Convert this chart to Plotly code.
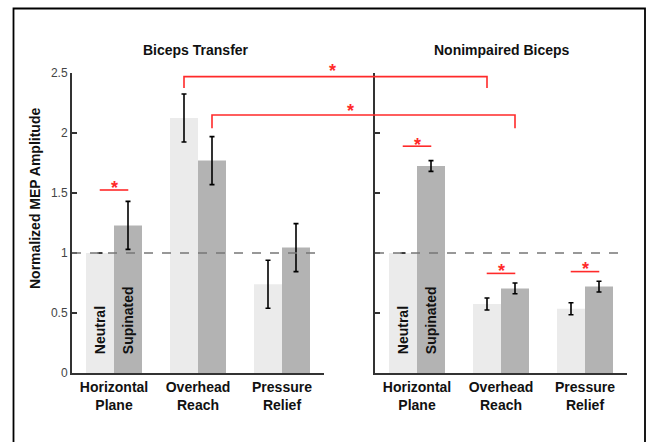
import plotly.graph_objects as go

# ---- data ----
postures = ["Horizontal<br>Plane", "Overhead<br>Reach", "Pressure<br>Relief"]

transfer_neutral = [1.00, 2.125, 0.74]
transfer_neutral_err = [0.0, 0.20, 0.20]
transfer_supinated = [1.23, 1.77, 1.045]
transfer_supinated_err = [0.20, 0.20, 0.20]

nonimp_neutral = [1.00, 0.575, 0.535]
nonimp_neutral_err = [0.0, 0.05, 0.05]
nonimp_supinated = [1.725, 0.705, 0.72]
nonimp_supinated_err = [0.045, 0.045, 0.045]

y_ticks = [0, 0.5, 1, 1.5, 2, 2.5]
y_tick_text = ["0", "0.5", "1", "1.5", "2", "2.5"]

# ---- style ----
W, H = 646, 442
NEUTRAL_C = "#ebebeb"
SUPIN_C = "#b3b3b3"
AXIS_C = "#333333"
RED = "#ff2a2a"
FONT = "Liberation Sans, Arial, sans-serif"
STAR_SIZE = 18
STAR_LIFT = 0.035  # asterisk glyph sits above its text-box centre

X1_DOM = [72 / W, 324 / W]
X2_DOM = [375 / W, 627 / W]
Y_DOM = [(H - 373) / H, (H - 73) / H]
X_RANGE = [-0.5, 2.5]
Y_RANGE = [0, 2.5]
HALF = 1 / 6  # offset from group centre to each bar centre


def x_to_paper(dom, v):
    return dom[0] + (v - X_RANGE[0]) / (X_RANGE[1] - X_RANGE[0]) * (dom[1] - dom[0])


def y_to_paper(v):
    return Y_DOM[0] + (v - Y_RANGE[0]) / (Y_RANGE[1] - Y_RANGE[0]) * (Y_DOM[1] - Y_DOM[0])


def star(xref, yref, x, y):
    return dict(xref=xref, yref=yref, x=x, y=y, text="<b>*</b>", showarrow=False,
                yanchor="middle", xanchor="center",
                font=dict(family=FONT, size=STAR_SIZE, color=RED))


err_style = dict(type="data", color="black", thickness=1.6, width=2.5)

fig = go.Figure()
for xa, ya, neu, neu_e, sup, sup_e in [
    ("x", "y", transfer_neutral, transfer_neutral_err, transfer_supinated, transfer_supinated_err),
    ("x2", "y2", nonimp_neutral, nonimp_neutral_err, nonimp_supinated, nonimp_supinated_err),
]:
    fig.add_trace(go.Bar(
        x=postures, y=neu, xaxis=xa, yaxis=ya, name="Neutral",
        marker=dict(color=NEUTRAL_C, line=dict(width=0)),
        error_y=dict(err_style, array=neu_e, visible=True), showlegend=False,
    ))
    fig.add_trace(go.Bar(
        x=postures, y=sup, xaxis=xa, yaxis=ya, name="Supinated",
        marker=dict(color=SUPIN_C, line=dict(width=0)),
        error_y=dict(err_style, array=sup_e, visible=True), showlegend=False,
    ))

shapes = []
annotations = []

# reference line at 1
for xa, ya in [("x", "y"), ("x2", "y2")]:
    shapes.append(dict(type="line", xref=f"{xa} domain", yref=ya, x0=0, x1=1, y0=1, y1=1,
                       line=dict(color="#777777", width=1.5, dash="dash"), layer="above"))

# within-posture significance markers: (axis, axis, group, line level, star level)
pair_marks = [
    ("x", "y", 0, 1.525, 1.575),
    ("x2", "y2", 0, 1.89, 1.935),
    ("x2", "y2", 1, 0.83, 0.885),
    ("x2", "y2", 2, 0.845, 0.90),
]
for xa, ya, c, yv, ys in pair_marks:
    shapes.append(dict(type="line", xref=xa, yref=ya, x0=c - 0.17, x1=c + 0.17, y0=yv, y1=yv,
                       line=dict(color=RED, width=1.6)))
    annotations.append(star(xa, ya, c, ys - STAR_LIFT))

# between-group brackets (overhead reach): bar centre, top level, leg end, star x (px), star level
brackets = [
    (1 - HALF, 2.47, 2.375, 332, 2.55),
    (1 + HALF, 2.15, 2.04, 351, 2.22),
]
for xc, top, leg, star_px, ys in brackets:
    xa = x_to_paper(X1_DOM, xc)
    xb = x_to_paper(X2_DOM, xc)
    shapes.append(dict(type="path", xref="paper", yref="y",
                       path=f"M {xa},{leg} L {xa},{top} L {xb},{top} L {xb},{leg}",
                       line=dict(color=RED, width=1.6)))
    annotations.append(star("paper", "paper", star_px / W, y_to_paper(ys - STAR_LIFT)))

# in-bar condition labels
for xa, ya in [("x", "y"), ("x2", "y2")]:
    for off, lab in [(-HALF, "Neutral"), (HALF, "Supinated")]:
        annotations.append(dict(xref=xa, yref=ya, x=off, y=0.14, text=f"<b>{lab}</b>",
                                textangle=-90, showarrow=False, yanchor="bottom", xanchor="center",
                                font=dict(family=FONT, size=14, color="#111111")))

# panel titles
for xc, title in [(196, "Biceps Transfer"), (502, "Nonimpaired Biceps")]:
    annotations.append(dict(xref="paper", yref="paper", x=xc / W, y=(H - 50) / H,
                            text=f"<b>{title}</b>", showarrow=False,
                            yanchor="middle", xanchor="center",
                            font=dict(family=FONT, size=14, color="#111111")))

# y-axis title
annotations.append(dict(xref="paper", yref="paper", x=35 / W, y=(H - 199) / H,
                        text="<b>Normalized MEP Amplitude</b>", textangle=-90, showarrow=False,
                        yanchor="middle", xanchor="center",
                        font=dict(family=FONT, size=14, color="#111111")))

# outer frame
shapes.append(dict(type="rect", xref="paper", yref="paper", x0=13.5 / W, x1=645 / W,
                   y0=-0.05, y1=(H - 8.5) / H, line=dict(color="black", width=1.8)))

xaxis_common = dict(
    range=X_RANGE, showline=True, linecolor=AXIS_C, linewidth=2, ticks="",
    showgrid=False, zeroline=False, automargin=False, fixedrange=True,
    tickfont=dict(family=FONT, size=14, color="#111111", weight="bold"),
)
yaxis_common = dict(
    range=Y_RANGE, domain=Y_DOM, showline=True, linecolor=AXIS_C, linewidth=2,
    ticks="inside", ticklen=5, tickwidth=1.5, tickcolor=AXIS_C,
    tickvals=y_ticks, ticktext=y_tick_text, showgrid=False, zeroline=False,
    automargin=False, fixedrange=True,
)

fig.update_layout(
    width=W, height=H,
    margin=dict(l=0, r=0, t=0, b=0),
    paper_bgcolor="white", plot_bgcolor="white",
    template="none",
    barmode="group", bargap=1 / 3, bargroupgap=0,
    xaxis=dict(xaxis_common, domain=X1_DOM, anchor="y"),
    xaxis2=dict(xaxis_common, domain=X2_DOM, anchor="y2"),
    yaxis=dict(yaxis_common, anchor="x", showticklabels=True,
               tickfont=dict(family=FONT, size=12, color="#444444")),
    yaxis2=dict(yaxis_common, anchor="x2", showticklabels=False),
    shapes=shapes, annotations=annotations,
    showlegend=False,
)

fig.write_html("out.html")
